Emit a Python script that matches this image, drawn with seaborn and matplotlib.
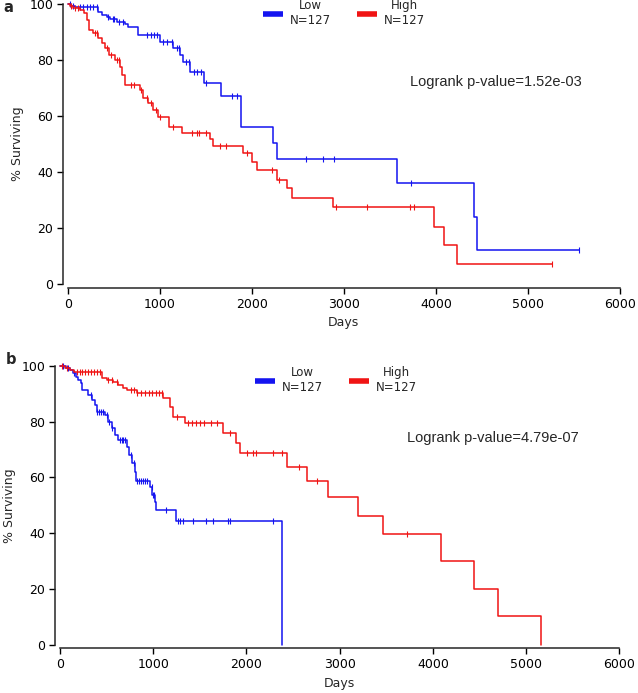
import numpy as np
import pandas as pd
import matplotlib
matplotlib.use("Agg")
import matplotlib.pyplot as plt
import seaborn as sns

# ---- panel a : Kaplan-Meier steps (days, % surviving) ----
a_low_t = [0, 40, 80, 333, 369, 424, 460, 532, 623, 659, 768, 1003, 1148, 1220, 1257,
           1329, 1482, 1666, 1884, 2235, 2279, 3576, 4416, 4446, 5550]
a_low_s = [100, 99.3, 98.8, 97.3, 96.1, 95.5, 94.5, 93.7, 92.9, 91.9, 88.9, 86.3, 84.2, 81.8, 79.4,
           75.8, 71.7, 67.2, 56.1, 50.5, 44.8, 36.0, 24.0, 12.1, 12.1]
a_low_cens = [25, 60, 134, 170, 205, 240, 280, 315, 440, 490, 505, 560, 600, 862, 900, 935, 970,
              1036, 1080, 1134, 1190, 1210, 1290, 1320, 1370, 1400, 1450, 1500, 1790, 1840,
              2587, 2772, 2895, 3732, 5550]

a_high_t = [0, 20, 60, 130, 177, 206, 235, 279, 333, 369, 405, 452, 514, 568, 587, 623, 786, 815,
            876, 930, 985, 1105, 1239, 1547, 1583, 1909, 2000, 2054, 2279, 2380, 2435, 2880,
            3982, 4083, 4228, 5261]
a_high_s = [100, 99.2, 98.5, 97.9, 96.9, 94.3, 90.7, 89.5, 87.7, 86.0, 84.2, 81.8, 80.0, 77.6, 74.6,
            71.1, 69.3, 66.3, 64.5, 62.1, 59.5, 56.2, 53.9, 51.7, 49.2, 46.7, 43.5, 40.7, 37.1,
            34.2, 30.6, 27.4, 20.5, 13.8, 7.0, 7.0]
a_high_cens = [40, 80, 110, 300, 320, 430, 470, 540, 560, 690, 720, 800, 860, 900, 960, 1000, 1140,
               1348, 1402, 1431, 1503, 1655, 1721, 1950, 2217, 2300, 2916, 3250, 3721, 3764, 5261]

# ---- panel b ----
b_low_t = [0, 60, 107, 143, 168, 197, 225, 240, 304, 340, 376, 394, 483, 519, 555, 590, 626, 716,
           740, 776, 805, 815, 966, 991, 1019, 1027, 1241, 2378]
b_low_s = [100, 99.3, 98.6, 97.4, 96.2, 95.0, 93.8, 91.4, 89.6, 87.8, 86.0, 83.6, 82.4, 80.0, 77.6,
           75.2, 73.4, 71.0, 68.0, 65.1, 62.0, 58.7, 56.7, 53.7, 51.3, 48.3, 44.4, 0]
b_low_cens = [30, 90, 150, 330, 400, 420, 440, 460, 500, 530, 560, 640, 660, 680, 700, 760, 790,
              830, 850, 870, 890, 910, 930, 990, 1000, 1010, 1134, 1270, 1290, 1316, 1424, 1563,
              1645, 1799, 1824, 2289]

b_high_t = [0, 50, 107, 150, 447, 501, 572, 626, 679, 716, 823, 1108, 1180, 1216, 1341, 1752, 1885,
            1931, 2432, 2654, 2872, 3198, 3462, 4085, 4442, 4696, 5161]
b_high_s = [100, 99.3, 98.6, 97.7, 95.8, 95.0, 94.4, 93.2, 92.0, 91.4, 90.2, 88.4, 85.4, 81.8, 79.4,
            76.1, 72.5, 68.9, 63.8, 58.8, 52.9, 46.2, 39.7, 29.9, 20.0, 10.1, 0]
b_high_cens = [20, 80, 179, 210, 240, 270, 300, 330, 360, 400, 429, 520, 560, 610, 760, 790, 830,
               870, 910, 950, 990, 1030, 1060, 1095, 1252, 1377, 1420, 1460, 1500, 1550, 1620,
               1681, 1824, 2003, 2074, 2103, 2289, 2378, 2561, 2754, 3727]

labels = ["Low\nN=127", "High\nN=127"]
pvals = ["Logrank p-value=1.52e-03", "Logrank p-value=4.79e-07"]
BLUE, RED = "#1414f0", "#f01414"

sns.set_style("ticks")
plt.rcParams['font.family'] = ['DejaVu Sans']
plt.rcParams['xtick.labelsize'] = 9
plt.rcParams['ytick.labelsize'] = 9


def cens_y(t, s, ct):
    # survival level at each censor time
    idx = np.searchsorted(np.array(t), np.array(ct), side='right') - 1
    return np.array(s)[idx]


def km_panel(ax, curves, pval, py):
    for (t, s, ct), col, lab in curves:
        sns.lineplot(x=t, y=s, ax=ax, color=col, lw=1.1, drawstyle='steps-post',
                     sort=False, estimator=None, label=lab, clip_on=False)
        ax.plot(ct, cens_y(t, s, ct), ls='none', marker='|', ms=5, mew=0.8,
                color=col, clip_on=False)
    ax.set_xlim(0, 6000)
    ax.set_ylim(0, 100)
    ax.set_xticks(range(0, 6001, 1000))
    ax.set_yticks(range(0, 101, 20))
    ax.tick_params(length=4.5, width=1, pad=2.5, colors='black')
    ax.set_xlabel("Days", fontsize=9)
    ax.set_ylabel("% Surviving", fontsize=9)
    ax.text(0.62, py, pval, transform=ax.transAxes, fontsize=10.5,
            family='Liberation Sans', va='center', ha='left')
    sns.despine(ax=ax, offset={'left': 3.5, 'bottom': 2.8}, trim=True)
    for sp in ax.spines.values():
        sp.set_linewidth(1.1)


fig = plt.figure(figsize=(6.38, 6.93), dpi=100)
ax_a = fig.add_axes([67.7 / 638, 1 - 284 / 693, (620 - 67.7) / 638, 280 / 693])
ax_b = fig.add_axes([60 / 638, 1 - 644.5 / 693, (619.3 - 60) / 638, 278.5 / 693])

km_panel(ax_a, [((a_low_t, a_low_s, a_low_cens), BLUE, labels[0]),
                ((a_high_t, a_high_s, a_high_cens), RED, labels[1])], pvals[0], 0.7225)
km_panel(ax_b, [((b_low_t, b_low_s, b_low_cens), BLUE, labels[0]),
                ((b_high_t, b_high_s, b_high_cens), RED, labels[1])], pvals[1], 0.740)

for ax, cx, cy in [(ax_a, 344 / 638, 1 - 13 / 693), (ax_b, 336 / 638, 1 - 380 / 693)]:
    leg = ax.legend(loc='center', bbox_to_anchor=(cx, cy), bbox_transform=fig.transFigure,
                    ncol=2, frameon=False, fontsize=8.5, handlelength=1.7, handletextpad=0.6,
                    columnspacing=2.2, borderpad=0)
    for ln in leg.get_lines():
        ln.set_linewidth(4)
        ln.set_solid_capstyle('butt')
    for tx in leg.get_texts():
        tx.set_multialignment('center')

fig.text(8 / 638, 1 - 8 / 693, "a", fontsize=10.5, fontweight='bold', ha='center', va='center')
fig.text(11 / 638, 1 - 359 / 693, "b", fontsize=10.5, fontweight='bold', ha='center', va='center')

fig.savefig("out.png", dpi=100)
